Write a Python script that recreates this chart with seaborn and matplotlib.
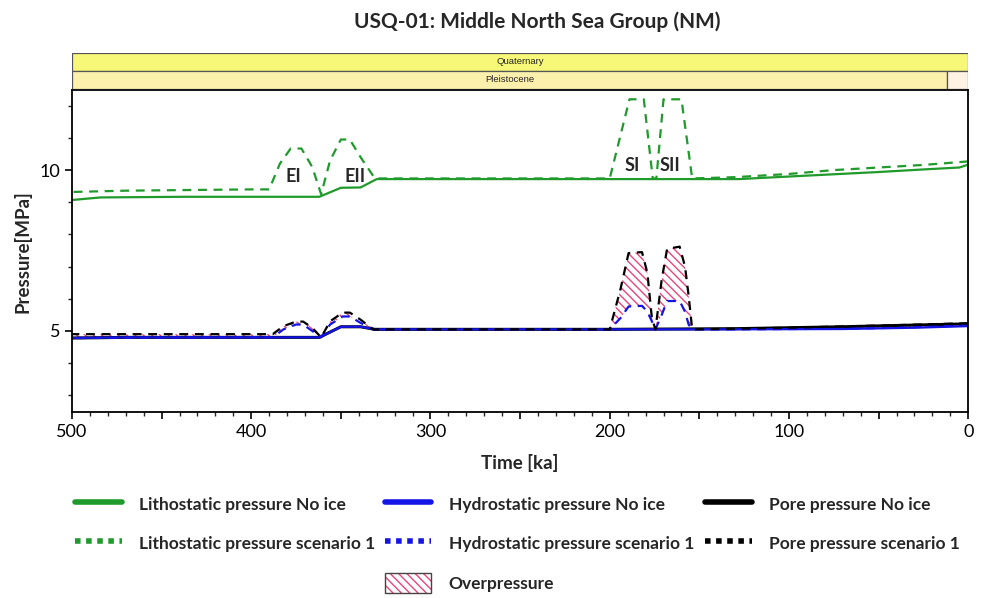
import numpy as np
import matplotlib
matplotlib.use("Agg")
import matplotlib.pyplot as plt
import seaborn as sns
from matplotlib import font_manager
from matplotlib.lines import Line2D
from matplotlib.patches import Patch, Rectangle
from matplotlib.legend_handler import HandlerTuple
from matplotlib.ticker import MultipleLocator, FuncFormatter

sns.set_theme(style="white")
plt.rcParams['font.family'] = ['Lato', 'DejaVu Sans']
plt.rcParams['hatch.linewidth'] = 1.0

GREEN = "#1f9a2b"
BLUE = "#1414e6"
BLACK = "#000000"
PINK = "#e8457c"

# --- stratigraphy bands (ka) ---
band_start = [500, 500, 11.7]
band_end = [0, 11.7, 0]
band_row = [1, 0, 0]
band_colors = ["#f8f878", "#fdf0ac", "#fdf2e4"]
band_labels = ["Quaternary", "Pleistocene", ""]

# --- lithostatic pressure (MPa) ---
litho_noice_t = [500, 484, 437, 400, 362, 350, 339, 330, 200, 128, 100, 75, 50, 25, 5, 0]
litho_noice_p = [9.07, 9.15, 9.17, 9.17, 9.17, 9.45, 9.46, 9.72, 9.72, 9.72, 9.8, 9.87,
                 9.94, 10.02, 10.08, 10.17]

litho_s1_t = [500, 470, 400, 390, 384, 378, 372, 366, 361, 356, 350, 345, 339, 331,
              200, 189, 181, 176, 174, 170, 160, 154, 130, 100, 75, 50, 25, 0]
litho_s1_p = [9.32, 9.36, 9.4, 9.4, 10.2, 10.67, 10.67, 10.1, 9.25, 10.3, 10.95, 10.95,
              10.4, 9.74, 9.74, 12.2, 12.2, 9.74, 9.74, 12.2, 12.2, 9.74, 9.78, 9.88,
              10.0, 10.08, 10.16, 10.27]

# --- hydrostatic / pore pressure, no ice ---
hydro_noice_t = [500, 470, 400, 362, 350, 339, 331, 200, 130, 70, 30, 0]
hydro_noice_p = [4.78, 4.8, 4.8, 4.8, 5.13, 5.13, 5.05, 5.05, 5.05, 5.06, 5.1, 5.15]

pore_noice_t = [500, 470, 400, 362, 350, 339, 331, 200, 130, 100, 70, 40, 0]
pore_noice_p = [4.78, 4.8, 4.8, 4.8, 5.13, 5.13, 5.05, 5.05, 5.07, 5.1, 5.13, 5.17, 5.22]

# --- scenario 1, hydrostatic and pore on a shared time axis ---
low_s1_t = [500, 400, 388, 382, 375, 371, 366, 361, 356, 349, 345, 339, 332, 200,
            194, 189.5, 182, 179, 176.5, 174.5, 171, 168, 161, 158, 156, 154,
            130, 100, 70, 40, 0]
pore_s1_p = [4.9, 4.9, 4.9, 5.15, 5.29, 5.29, 5.1, 4.8, 5.3, 5.57, 5.57, 5.35, 5.05, 5.05,
             6.3, 7.42, 7.45, 6.8, 5.4, 5.05, 6.6, 7.55, 7.62, 7.0, 6.1, 5.05,
             5.07, 5.1, 5.14, 5.18, 5.24]
hydro_s1_p = [4.78, 4.8, 4.8, 5.05, 5.2, 5.2, 5.0, 4.8, 5.2, 5.45, 5.45, 5.25, 5.05, 5.05,
              5.4, 5.76, 5.78, 5.6, 5.3, 5.05, 5.5, 5.93, 5.93, 5.6, 5.2, 5.05,
              5.05, 5.06, 5.07, 5.1, 5.17]

events = ["EI", "EII", "SI", "SII"]
event_t = [376.5, 342, 187.5, 166.5]
event_p = [9.8, 9.8, 10.15, 10.15]

fig = plt.figure(figsize=(9.86, 5.98), dpi=100)
ax = fig.add_axes([0.073, 0.311, 0.909, 0.538])

dash = (4, 3)
sns.lineplot(x=pore_noice_t, y=pore_noice_p, ax=ax, color=BLACK, lw=2.2, estimator=None)
sns.lineplot(x=hydro_noice_t, y=hydro_noice_p, ax=ax, color=BLUE, lw=1.6, estimator=None)
sns.lineplot(x=litho_noice_t, y=litho_noice_p, ax=ax, color=GREEN, lw=1.6, estimator=None)

t_low = np.array(low_s1_t)
pore_arr = np.array(pore_s1_p)
hydro_arr = np.array(hydro_s1_p)
ax.fill_between(t_low, hydro_arr, pore_arr, where=(pore_arr - hydro_arr) > 0.08,
                interpolate=True, facecolor="none", edgecolor=PINK, hatch="\\\\\\\\", lw=0)

sns.lineplot(x=low_s1_t, y=hydro_s1_p, ax=ax, color=BLUE, lw=1.6, estimator=None,
             linestyle=(0, dash))
sns.lineplot(x=low_s1_t, y=pore_s1_p, ax=ax, color=BLACK, lw=1.6, estimator=None,
             linestyle=(0, dash))
sns.lineplot(x=litho_s1_t, y=litho_s1_p, ax=ax, color=GREEN, lw=1.6, estimator=None,
             linestyle=(0, dash))

for name, t, p in zip(events, event_t, event_p):
    ax.text(t, p, name, ha="center", va="center", fontsize=13, fontweight="bold")

ax.set_xlim(500, 0)
ax.set_ylim(2.48, 12.48)
ax.xaxis.set_major_locator(MultipleLocator(50))
ax.xaxis.set_minor_locator(MultipleLocator(10))
ax.xaxis.set_major_formatter(FuncFormatter(lambda v, _: f"{int(v)}" if v % 100 == 0 else ""))
ax.yaxis.set_major_locator(MultipleLocator(5))
ax.yaxis.set_minor_locator(MultipleLocator(1))
ax.tick_params(which="major", direction="out", length=5, width=1.2, labelsize=13,
               bottom=True, left=True, colors="black")
ax.tick_params(which="minor", direction="out", length=3, width=1, bottom=True, left=True)
for s in ax.spines.values():
    s.set_color("black")
    s.set_linewidth(1.3)
ax.set_xlabel("Time [ka]", fontsize=13.5, fontweight="bold", labelpad=10)
ax.set_ylabel("Pressure[MPa]", fontsize=13.5, fontweight="bold", labelpad=6)

# stratigraphic bands
names = {f.name for f in font_manager.fontManager.ttflist}
narrow = "Liberation Sans Narrow" in names
band_font = dict(family=["Liberation Sans Narrow", "DejaVu Sans"], fontsize=7.5) if narrow \
    else dict(family=["Liberation Sans", "DejaVu Sans"], fontsize=6.8)

bax = fig.add_axes([0.073, 0.851, 0.909, 0.061])
bax.set_xlim(500, 0)
bax.set_ylim(0, 2)
bax.axis("off")
for s, e, r, c, lab in zip(band_start, band_end, band_row, band_colors, band_labels):
    bax.add_patch(Rectangle((e, r), s - e, 1, facecolor=c, edgecolor="#555555", lw=0.9))
    if lab:
        bax.text((s + e) / 2, r + 0.5, lab, ha="center", va="center", **band_font)

fig.text(0.545, 0.963, "USQ-01: Middle North Sea Group (NM)", ha="center", va="center",
         fontsize=15, fontweight="bold")

# legend, one block per column
solid_kw = dict(lw=4)
dot_kw = dict(lw=4, linestyle=(0, (1, 1)))
over = (Patch(facecolor="white", edgecolor=PINK, hatch="\\\\\\\\", lw=0),
        Patch(facecolor="none", edgecolor="#444444", lw=1))
blocks = [
    ([Line2D([], [], color=GREEN, **solid_kw), Line2D([], [], color=GREEN, **dot_kw)],
     ["Lithostatic pressure No ice", "Lithostatic pressure scenario 1"], 0.076, 0.174),
    ([Line2D([], [], color=BLUE, **solid_kw), Line2D([], [], color=BLUE, **dot_kw)],
     ["Hydrostatic pressure No ice", "Hydrostatic pressure scenario 1"], 0.390, 0.174),
    ([Line2D([], [], color=BLACK, **solid_kw), Line2D([], [], color=BLACK, **dot_kw)],
     ["Pore pressure No ice", "Pore pressure scenario 1"], 0.715, 0.174),
    ([over], ["Overpressure"], 0.390, 0.042),
]
for handles, labels, x0, y0 in blocks:
    fig.legend(handles, labels, loc="upper left", bbox_to_anchor=(x0, y0),
               frameon=False, handlelength=2.7, handleheight=1.4,
               handletextpad=1.0, labelspacing=1.09, borderpad=0, borderaxespad=0,
               prop={"weight": "bold", "size": 12.5},
               handler_map={tuple: HandlerTuple(ndivide=1, pad=0)})

fig.savefig("out.png", dpi=100)
